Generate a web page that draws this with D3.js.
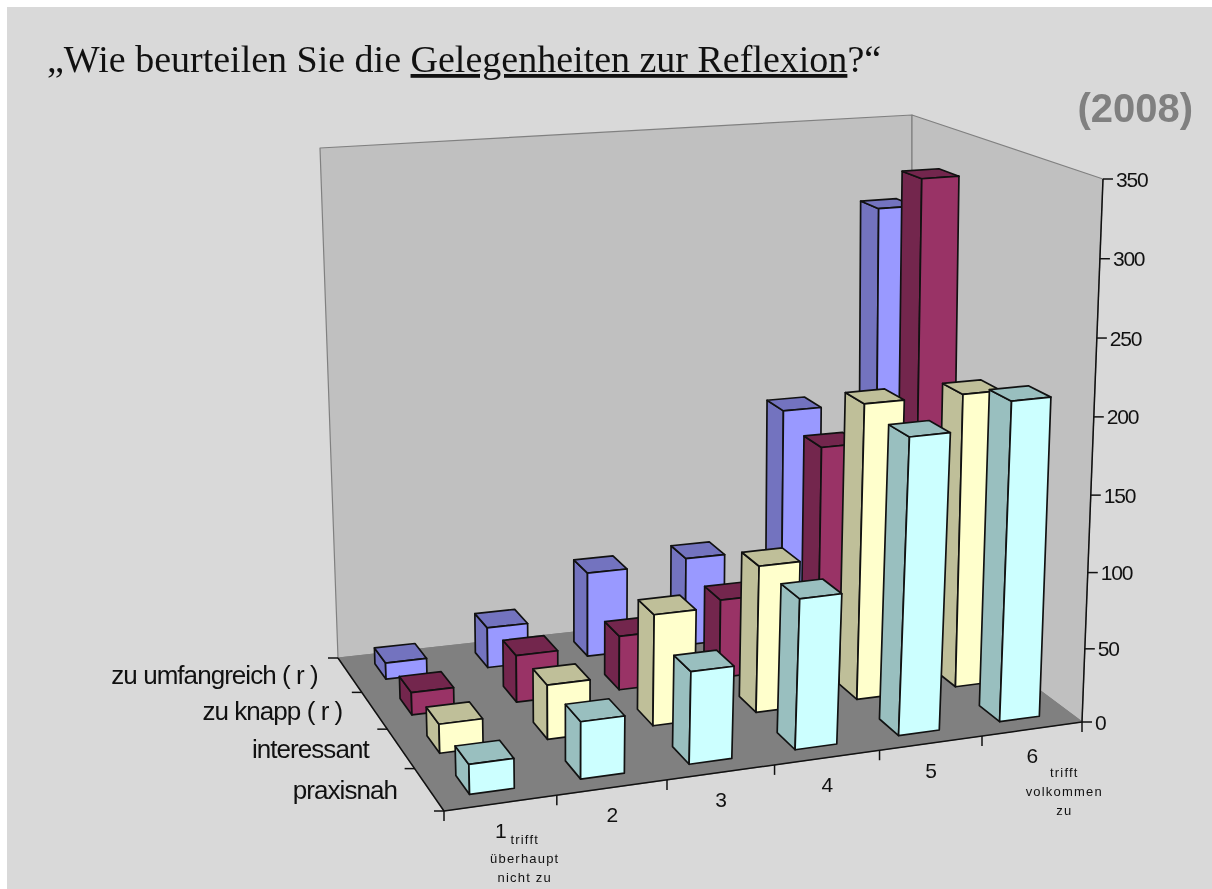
<!DOCTYPE html>
<html>
<head>
<meta charset="utf-8">
<title>Gelegenheiten zur Reflexion</title>
<script src="https://cdn.jsdelivr.net/npm/d3@7"></script>
<style>
  html, body { margin: 0; padding: 0; background: #fff; }
  svg { display: block; filter: blur(0.35px); }
  text { font-family: "Liberation Sans", Arial, sans-serif; fill: #111; }
</style>
</head>
<body>
<div id="chart"></div>
<script>
// -------- data ------------------------------- //
var categories = ["1", "2", "3", "4", "5", "6"];
var seriesNames = ["zu umfangreich ( r )", "zu knapp ( r )", "interessant", "praxisnah"];

var zuUmfangreich = [12, 29, 60, 63, 160, 295];
var zuKnapp = [16, 33, 38, 55, 152, 327];
var interessant = [20, 37, 75, 99, 198, 198];
var praxisnah = [20, 38, 61, 99, 194, 210];
var seriesValues = [zuUmfangreich, zuKnapp, interessant, praxisnah];

var valueTicks = [0, 50, 100, 150, 200, 250, 300, 350];
var leftNote = ["trifft", "überhaupt", "nicht zu"];
var rightNote = ["trifft", "volkommen", "zu"];

var frontColors = ["#9999ff", "#993366", "#ffffcc", "#ccffff"];

var width = 1212;
var height = 889;

var svg = d3
  .select("#chart")
  .append("svg")
  .attr("width", width)
  .attr("height", height);

svg
  .append("rect")
  .attr("x", 7)
  .attr("y", 7)
  .attr("width", width - 7)
  .attr("height", height - 7)
  .attr("fill", "#d9d9d9");

// -------- the 3d box: floor and ceiling quads on screen ---------- //
// corners go back-left, back-right, front-right, front-left
var floorQuad = [[338, 658], [912, 595], [1082, 722], [444, 811]];
var ceilQuad = [[320, 148], [912, 115], [1103, 179], [427, 234]];

// unit square to quad (projective)
function homography(q) {
  var x0 = q[0][0], y0 = q[0][1], x1 = q[1][0], y1 = q[1][1];
  var x2 = q[2][0], y2 = q[2][1], x3 = q[3][0], y3 = q[3][1];
  var dx1 = x1 - x2, dx2 = x3 - x2, sx = x0 - x1 + x2 - x3;
  var dy1 = y1 - y2, dy2 = y3 - y2, sy = y0 - y1 + y2 - y3;
  var den = dx1 * dy2 - dx2 * dy1;
  var g = (sx * dy2 - dx2 * sy) / den;
  var h = (dx1 * sy - sx * dy1) / den;
  var a = x1 - x0 + g * x1, b = x3 - x0 + h * x3;
  var d = y1 - y0 + g * y1, e = y3 - y0 + h * y3;
  return function(u, w) {
    var t = g * u + h * w + 1;
    return [(a * u + b * w + x0) / t, (d * u + e * w + y0) / t];
  };
}

var floorMap = homography(floorQuad);
var ceilMap = homography(ceilQuad);

var xScale = d3.scaleBand().domain(categories).range([0, 1]).paddingInner(0.6).paddingOuter(0.3);
var xStep = d3.scaleBand().domain(categories).range([0, 1]);
var zScale = d3.scaleBand().domain(seriesNames).range([0, 1]).paddingInner(0.55).paddingOuter(0.275);
var zStep = d3.scaleBand().domain(seriesNames).range([0, 1]);
// slight bend, the ticks on the value axis are not evenly spaced in the picture
var yScale = d3.scalePow().exponent(1.03).domain([0, 350]).range([0, 1]);

function project(u, w, value) {
  // the columns sit a little left of a pure projective floor
  var uu = u - 0.05 * u * (1 - u);
  var f = floorMap(uu, w);
  var c = ceilMap(uu, w);
  var t = yScale(value);
  return [f[0] + (c[0] - f[0]) * t, f[1] + (c[1] - f[1]) * t];
}

var poly = d3.line().curve(d3.curveLinearClosed);

// -------- walls and floor ---------- //
var walls = [
  { pts: [[0, 0, 0], [1, 0, 0], [1, 0, 350], [0, 0, 350]], fill: "#c0c0c0" },
  { pts: [[1, 0, 0], [1, 1, 0], [1, 1, 350], [1, 0, 350]], fill: "#c0c0c0" },
  { pts: [[0, 0, 0], [1, 0, 0], [1, 1, 0], [0, 1, 0]], fill: "#808080" }
];

svg
  .append("g")
  .selectAll("path")
  .data(walls)
  .join("path")
  .attr("d", function(d) {
    return poly(d.pts.map(function(p) { return project(p[0], p[1], p[2]); }));
  })
  .attr("fill", function(d) { return d.fill; })
  .attr("stroke", "#808080")
  .attr("stroke-width", 1.2)
  .attr("stroke-linejoin", "round");

// -------- axis lines and ticks ---------- //
var axisG = svg.append("g").attr("stroke", "#111").attr("stroke-width", 1.5).attr("fill", "none");

var axisLines = [
  [[0, 1, 0], [1, 1, 0]],
  [[0, 0, 0], [0, 1, 0]],
  [[1, 1, 0], [1, 1, 350]]
];
axisG
  .selectAll(".axis-line")
  .data(axisLines)
  .join("path")
  .attr("class", "axis-line")
  .attr("d", function(d) {
    return d3.line()(d.map(function(p) { return project(p[0], p[1], p[2]); }));
  });

var xEdges = categories.map(function(c) { return xStep(c); }).concat([1]);
var zEdges = seriesNames.map(function(s) { return zStep(s); }).concat([1]);

axisG
  .selectAll(".x-tick")
  .data(xEdges)
  .join("line")
  .attr("class", "x-tick")
  .attr("x1", function(d) { return project(d, 1, 0)[0]; })
  .attr("x2", function(d) { return project(d, 1, 0)[0]; })
  .attr("y1", function(d) { return project(d, 1, 0)[1]; })
  .attr("y2", function(d) { return project(d, 1, 0)[1] + 10; });

axisG
  .selectAll(".z-tick")
  .data(zEdges)
  .join("line")
  .attr("class", "z-tick")
  .attr("x1", function(d) { return project(0, d, 0)[0]; })
  .attr("x2", function(d) { return project(0, d, 0)[0] - 10; })
  .attr("y1", function(d) { return project(0, d, 0)[1]; })
  .attr("y2", function(d) { return project(0, d, 0)[1]; });

axisG
  .selectAll(".y-tick")
  .data(valueTicks)
  .join("line")
  .attr("class", "y-tick")
  .attr("x1", function(d) { return project(1, 1, d)[0]; })
  .attr("x2", function(d) { return project(1, 1, d)[0] + 10; })
  .attr("y1", function(d) { return project(1, 1, d)[1]; })
  .attr("y2", function(d) { return project(1, 1, d)[1]; });

// -------- bars, back row first, right to left in a row ---------- //
var bars = [];
seriesNames.forEach(function(name, s) {
  d3.range(categories.length - 1, -1, -1).forEach(function(c) {
    bars.push({ series: s, name: name, cat: categories[c], value: seriesValues[s][c] });
  });
});

function shade(color) {
  var c = d3.rgb(color);
  return d3.rgb(c.r * 0.75, c.g * 0.75, c.b * 0.75);
}

function faces(d) {
  var x0 = xScale(d.cat), x1 = x0 + xScale.bandwidth();
  var z0 = zScale(d.name), z1 = z0 + zScale.bandwidth();
  var v = d.value;
  var front = frontColors[d.series];
  var dark = shade(front);
  return [
    { fill: dark, pts: [[x0, z0, 0], [x0, z1, 0], [x0, z1, v], [x0, z0, v]] },
    { fill: dark, pts: [[x0, z0, v], [x1, z0, v], [x1, z1, v], [x0, z1, v]] },
    { fill: front, pts: [[x0, z1, 0], [x1, z1, 0], [x1, z1, v], [x0, z1, v]] }
  ];
}

svg
  .append("g")
  .selectAll("g")
  .data(bars)
  .join("g")
  .selectAll("path")
  .data(faces)
  .join("path")
  .attr("d", function(d) {
    return poly(d.pts.map(function(p) { return project(p[0], p[1], p[2]); }));
  })
  .attr("fill", function(d) { return d.fill; })
  .attr("stroke", "#111")
  .attr("stroke-width", 1.7)
  .attr("stroke-linejoin", "round");

// -------- labels ---------- //
svg
  .append("g")
  .selectAll("text")
  .data(valueTicks)
  .join("text")
  .attr("x", function(d) { return project(1, 1, d)[0] + 13; })
  .attr("y", function(d) { return project(1, 1, d)[1]; })
  .attr("dy", "0.36em")
  .attr("font-size", 21)
  .attr("letter-spacing", -1.2)
  .text(function(d) { return d; });

svg
  .append("g")
  .selectAll("text")
  .data(seriesNames)
  .join("text")
  .attr("x", function(d) { return project(0, zStep(d) + zStep.bandwidth() / 2, 0)[0] - 32; })
  .attr("y", function(d) { return project(0, zStep(d) + zStep.bandwidth() / 2, 0)[1]; })
  .attr("dy", "0.36em")
  .attr("text-anchor", "end")
  .attr("font-size", 26)
  .attr("letter-spacing", -0.95)
  .text(function(d) { return d; });

svg
  .append("g")
  .selectAll("text")
  .data(categories)
  .join("text")
  .attr("x", function(d) { return project(xStep(d) + xStep.bandwidth() / 2, 1, 0)[0]; })
  .attr("y", function(d) { return project(xStep(d) + xStep.bandwidth() / 2, 1, 0)[1] + 27; })
  .attr("dy", "0.36em")
  .attr("text-anchor", "middle")
  .attr("font-size", 21)
  .text(function(d) { return d; });

// small notes under category 1 and 6
function note(lines, cat, dx, dy) {
  var p = project(xStep(cat) + xStep.bandwidth() / 2, 1, 0);
  svg
    .append("g")
    .selectAll("text")
    .data(lines)
    .join("text")
    .attr("x", p[0] + dx)
    .attr("y", function(d, i) { return p[1] + dy + i * 19; })
    .attr("dy", "0.36em")
    .attr("text-anchor", "middle")
    .attr("font-size", 13)
    .attr("letter-spacing", 1.2)
    .text(function(d) { return d; });
}
note(leftNote, categories[0], 24, 36);
note(rightNote, categories[5], 32, 43);

// title
var title = svg
  .append("text")
  .attr("x", 47)
  .attr("y", 72)
  .attr("font-size", 38)
  .style("font-family", '"Liberation Serif", serif');
title.append("tspan").text("„Wie beurteilen Sie die ");
title.append("tspan").attr("text-decoration", "underline").text("Gelegenheiten zur Reflexion");
title.append("tspan").text("?“");

svg
  .append("text")
  .attr("x", 1193)
  .attr("y", 122)
  .attr("text-anchor", "end")
  .attr("font-size", 40)
  .attr("font-weight", "bold")
  .style("fill", "#808080")
  .text("(2008)");
</script>
</body>
</html>
